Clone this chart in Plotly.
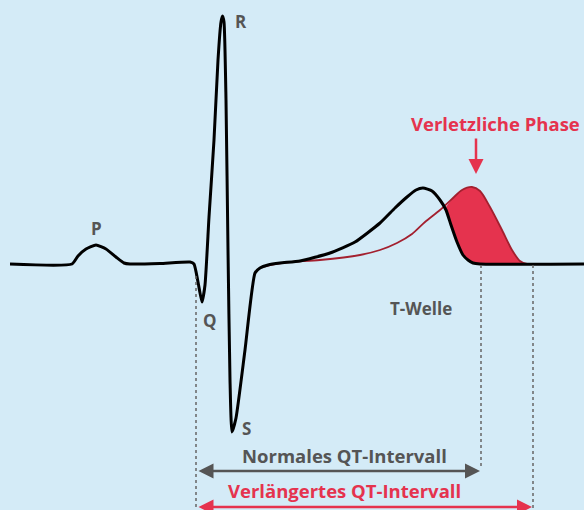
import plotly.graph_objects as go

# ECG trace (x: horizontal position, y: vertical position, screen-like units, y grows downward)
ecg_x = [10, 72, 78, 86, 96, 106, 116, 124, 130, 160, 190, 194, 198, 202, 205, 209, 214, 218, 221, 222.5, 224, 226, 228, 230, 232, 236, 245, 255, 260, 268, 280, 300, 330, 355, 380, 395, 407, 416, 423, 432, 440, 446, 451, 457, 463, 468, 473, 480, 584]
ecg_y = [264, 264, 256, 249, 245, 249, 257, 263, 264, 263.5, 262, 264, 282, 302, 285, 217, 140, 60, 22, 16, 22, 100, 250, 380, 432, 418, 350, 273, 268, 265, 263, 261, 253, 242, 223, 208, 197, 190, 188, 191, 200, 210, 225, 242, 255, 260, 263, 264, 264]

# Prolonged T wave
tlong_x = [262, 275, 290, 320, 360, 380, 397, 412, 425, 440, 453, 462, 472, 480, 490, 502, 512, 520, 527, 533]
tlong_y = [267, 264, 262, 260, 255, 250, 243, 234, 222, 210, 198, 190, 187, 191, 207, 230, 250, 261, 264, 264]

# Vulnerable phase region boundary (crossing -> end of prolonged T)
crossing_x = 445

labels = ["P", "R", "Q", "S", "T-Welle"]
label_x = [96, 241, 210, 246, 421]
label_y = [228, 21, 320, 428, 308]

qt_start = 196
qt_normal_end = 481
qt_long_end = 533

BG = "#d4ebf7"
RED = "#e5334e"
GRAY = "#555555"

fig = go.Figure()

# filled vulnerable phase
fx = [x for x in tlong_x if x >= crossing_x]
fy = [y for x, y in zip(tlong_x, tlong_y) if x >= crossing_x]
bx = [x for x in ecg_x if crossing_x <= x <= qt_long_end]
by = [y for x, y in zip(ecg_x, ecg_y) if crossing_x <= x <= qt_long_end]
poly_x = [crossing_x] + fx + bx[::-1] + [crossing_x]
poly_y = [209] + fy + by[::-1] + [209]
fig.add_trace(go.Scatter(x=poly_x, y=poly_y, mode="lines", fill="toself",
                         fillcolor=RED, line=dict(width=0, shape="spline", smoothing=0.6),
                         hoverinfo="skip", showlegend=False))

fig.add_trace(go.Scatter(x=tlong_x, y=tlong_y, mode="lines",
                         line=dict(color="#a3202f", width=1.8, shape="spline", smoothing=0.8),
                         hoverinfo="skip", showlegend=False))

fig.add_trace(go.Scatter(x=ecg_x, y=ecg_y, mode="lines",
                         line=dict(color="black", width=3, shape="spline", smoothing=0.5),
                         hoverinfo="skip", showlegend=False))

# dotted verticals
for xv, y0, y1 in [(qt_start, 276, 510), (qt_normal_end, 265, 466), (qt_long_end, 265, 510)]:
    fig.add_shape(type="line", x0=xv, x1=xv, y0=y0, y1=y1,
                  line=dict(color="#666666", width=1.5, dash="dot"))

font_b = "'Open Sans', Lato, sans-serif"
for t, x, y in zip(labels, label_x, label_y):
    fig.add_annotation(x=x, y=y, text=f"<b>{t}</b>", showarrow=False,
                       font=dict(family=font_b, size=17, color=GRAY))

fig.add_annotation(x=495, y=123, text="<b>Verletzliche Phase</b>", showarrow=False,
                   font=dict(family=font_b, size=18.5, color=RED))
fig.add_annotation(x=476, y=174, ax=476, ay=137, xref="x", yref="y", axref="x", ayref="y",
                   text="", showarrow=True, arrowhead=2, arrowsize=1.2, arrowwidth=2.5,
                   arrowcolor=RED)

fig.add_annotation(x=344, y=455, text="<b>Normales QT-Intervall</b>", showarrow=False,
                   font=dict(family=font_b, size=18.5, color=GRAY))
fig.add_annotation(x=qt_normal_end - 1, y=471, ax=qt_start + 1, ay=471, xref="x", yref="y",
                   axref="x", ayref="y", text="", showarrow=True, arrowhead=2,
                   startarrowhead=2, arrowside="end+start", arrowsize=1.2, startarrowsize=1.2,
                   arrowwidth=2.5, arrowcolor=GRAY)

fig.add_annotation(x=344, y=490, text="<b>Verlängertes QT-Intervall</b>", showarrow=False,
                   font=dict(family=font_b, size=18.5, color=RED))
fig.add_annotation(x=qt_long_end - 1, y=507, ax=qt_start + 1, ay=507, xref="x", yref="y",
                   axref="x", ayref="y", text="", showarrow=True, arrowhead=2,
                   startarrowhead=2, arrowside="end+start", arrowsize=1.2, startarrowsize=1.2,
                   arrowwidth=2.5, arrowcolor=RED)

fig.update_xaxes(range=[0, 584], visible=False, fixedrange=True)
fig.update_yaxes(range=[510, 0], visible=False, fixedrange=True)
fig.update_layout(width=584, height=510, margin=dict(l=0, r=0, t=0, b=0),
                  paper_bgcolor=BG, plot_bgcolor=BG)

fig.write_html("out.html", config={"displayModeBar": False},
               post_script="document.body.style.margin='0';document.body.style.overflow='hidden';document.body.style.background='%s';" % BG)
